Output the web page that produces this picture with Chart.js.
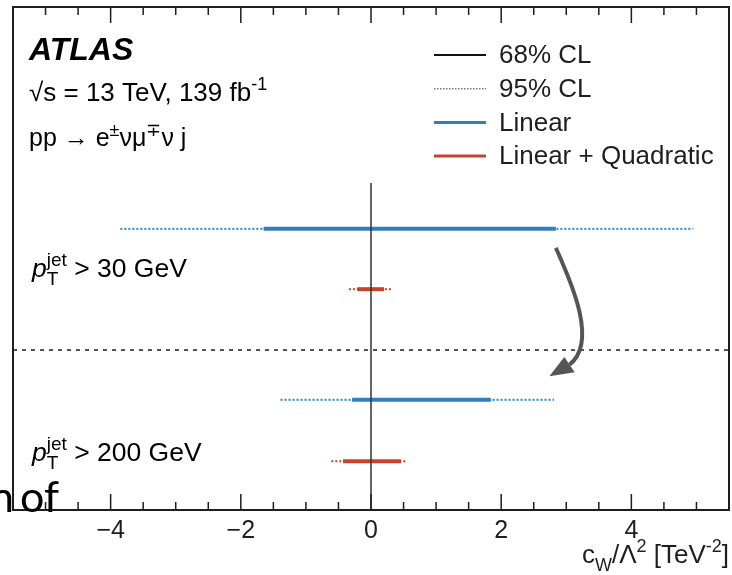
<!DOCTYPE html>
<html>
<head>
<meta charset="utf-8">
<script src="https://cdn.jsdelivr.net/npm/chart.js@4.4.1/dist/chart.umd.min.js"></script>
<style>
  html, body { margin: 0; padding: 0; background: #fff; }
</style>
</head>
<body>
<canvas id="cwChart" width="732" height="575"></canvas>
<script>
// ----------------------
// DATA: c_W / Lambda^2 limits [TeV^-2]
// ----------------------
const rows = ['pT>30 Linear', 'pT>30 Linear + Quadratic', 'pT>200 Linear', 'pT>200 Linear + Quadratic'];
const rowModel = ['linear', 'quad', 'linear', 'quad'];
const rowY = [4.41, 5.61, 7.81, 9.03];           // vertical slot of each row (hidden axis, 0 = top)
const cl68Low = [-1.65, -0.21, -0.29, -0.43];
const cl68High = [2.84, 0.20, 1.84, 0.46];
const cl95Low = [-3.85, -0.34, -1.39, -0.61];
const cl95High = [4.95, 0.31, 2.81, 0.54];

const xMin = -5.5, xMax = 5.5;
const xLabels = [-4, -2, 0, 2, 4];
const legendLabels = ['68% CL', '95% CL', 'Linear', 'Linear + Quadratic'];

const FONT = '"Liberation Sans", Arial, Helvetica, sans-serif';
const colors = { linear: '#2f7fbd', quad: '#c6422c' };
const ink = '#1e1e1e';

// ----------------------
// TEXT HELPERS
// ----------------------
function partFont(p, size) {
  const s = p.pos ? Math.round(size * 0.7) : size;
  return `${p.it ? 'italic ' : ''}${p.b ? 'bold ' : ''}${s}px ${FONT}`;
}

// draws runs of text with super/subscripts; {stack:true} does not advance x
function drawParts(ctx, x, y, parts, size, align) {
  let total = 0, held = 0;
  parts.forEach(p => {
    ctx.font = partFont(p, size);
    const w = ctx.measureText(p.t).width;
    if (p.stack) held = Math.max(held, w);
    else { total += Math.max(w, held); held = 0; }
  });
  let cx = align === 'right' ? x - total : x;
  held = 0;
  ctx.textAlign = 'left';
  ctx.textBaseline = 'alphabetic';
  parts.forEach(p => {
    ctx.font = partFont(p, size);
    const w = ctx.measureText(p.t).width;
    let dy = 0;
    if (p.pos === 'sup') dy = -size * 0.42;
    if (p.pos === 'sub') dy = size * 0.32;
    ctx.fillText(p.t, cx, y + dy);
    if (p.stack) held = Math.max(held, w);
    else { cx += Math.max(w, held); held = 0; }
  });
}

// ----------------------
// DECORATION PLUGIN (frame, inward ticks, legend, labels, arrow)
// ----------------------
const atlasDecor = {
  id: 'atlasDecor',
  afterDraw(chart) {
    const { ctx, chartArea: a } = chart;
    const sx = chart.scales.x, sy = chart.scales.y;
    ctx.save();

    // frame
    ctx.strokeStyle = ink;
    ctx.lineWidth = 2;
    ctx.strokeRect(a.left, a.top, a.right - a.left, a.bottom - a.top);

    // inward ticks on bottom and top edges
    ctx.lineWidth = 1.5;
    sx.ticks.forEach(t => {
      const px = sx.getPixelForValue(t.value);
      if (px <= a.left + 1 || px >= a.right - 1) return;
      const major = Math.abs(t.value % 2) < 1e-9;
      const len = major ? 16 : 8;
      ctx.beginPath();
      ctx.moveTo(px, a.bottom); ctx.lineTo(px, a.bottom - len);
      ctx.moveTo(px, a.top); ctx.lineTo(px, a.top + len);
      ctx.stroke();
    });

    // curved arrow
    const P = (x, y) => [sx.getPixelForValue(x), sy.getPixelForValue(y)];
    const p0 = P(2.84, 4.79), c1 = P(3.06, 5.43), c2 = P(3.50, 6.66), p3 = P(3.05, 7.11);
    ctx.strokeStyle = '#555';
    ctx.fillStyle = '#555';
    ctx.lineWidth = 4;
    ctx.beginPath();
    ctx.moveTo(...p0);
    ctx.bezierCurveTo(...c1, ...c2, ...p3);
    ctx.stroke();
    const tip = P(2.74, 7.34), wa = P(2.97, 6.96), wb = P(3.13, 7.26);
    ctx.beginPath();
    ctx.moveTo(...tip); ctx.lineTo(...wa); ctx.lineTo(...wb);
    ctx.closePath();
    ctx.fill();

    // legend
    const legStyles = [
      { color: '#111', width: 2, dash: [] },
      { color: '#777', width: 1.5, dash: [1.5, 1.5] },
      { color: colors.linear, width: 3, dash: [] },
      { color: colors.quad, width: 3, dash: [] }
    ];
    ctx.fillStyle = ink;
    legendLabels.forEach((lab, i) => {
      const y = 55 + i * 33.7;
      const st = legStyles[i];
      ctx.strokeStyle = st.color;
      ctx.lineWidth = st.width;
      ctx.setLineDash(st.dash);
      ctx.beginPath();
      ctx.moveTo(434, y); ctx.lineTo(486, y);
      ctx.stroke();
      ctx.setLineDash([]);
      ctx.font = `26px ${FONT}`;
      ctx.textBaseline = 'middle';
      ctx.textAlign = 'left';
      ctx.fillText(lab, 499, y + 1);
    });

    // experiment labels
    ctx.fillStyle = '#000';
    drawParts(ctx, 29, 60, [{ t: 'ATLAS', b: true, it: true }], 32);
    drawParts(ctx, 29, 101, [{ t: '\u221As = 13 TeV, 139 fb' }, { t: '-1', pos: 'sup' }], 26);
    drawParts(ctx, 29, 146, [
      { t: 'pp \u2192 e' }, { t: '\u00B1', pos: 'sup' }, { t: '\u03BD\u03BC' },
      { t: '\u2213', pos: 'sup' }, { t: '\u03BD j' }
    ], 25);

    // phase-space labels next to each pair of rows
    const ptLabel = (cut, yv) => drawParts(ctx, 32, yv, [
      { t: 'p', it: true }, { t: 'jet', pos: 'sup', stack: true }, { t: 'T', pos: 'sub' },
      { t: ' > ' + cut + ' GeV' }
    ], 26.5);
    ptLabel(30, 277);
    ptLabel(200, 461);

    // axis title
    ctx.fillStyle = ink;
    drawParts(ctx, a.right, 563, [
      { t: 'c' }, { t: 'W', pos: 'sub' }, { t: '/\u039B' }, { t: '2', pos: 'sup' },
      { t: ' [TeV' }, { t: '-2', pos: 'sup' }, { t: ']' }
    ], 26, 'right');

    // slide caption fragment in the lower-left corner
    ctx.fillStyle = '#000';
    ctx.font = '43px Lato, "Open Sans", sans-serif';
    ctx.textBaseline = 'alphabetic';
    ctx.textAlign = 'right';
    ctx.fillText('n', 14, 512);
    ctx.textAlign = 'left';
    ctx.fillText('of', 20, 512);

    ctx.restore();
  }
};

// ----------------------
// CHART
// ----------------------
function buildDatasets() {
  const ds = [];
  rows.forEach((row, i) => {
    const color = colors[rowModel[i]];
    ds.push({
      label: row + ' (95% CL)',
      data: [{ x: cl95Low[i], y: rowY[i] }, { x: cl95High[i], y: rowY[i] }],
      borderColor: color,
      borderWidth: 2,
      borderDash: [2, 2],
      pointRadius: 0,
      order: 3
    });
    ds.push({
      label: row + ' (68% CL)',
      data: [{ x: cl68Low[i], y: rowY[i] }, { x: cl68High[i], y: rowY[i] }],
      borderColor: color,
      borderWidth: 4,
      pointRadius: 0,
      order: 2
    });
  });
  // separator between the two jet-pT selections
  ds.push({
    label: 'separator',
    data: [{ x: xMin, y: 6.82 }, { x: xMax, y: 6.82 }],
    borderColor: '#555',
    borderWidth: 2,
    borderDash: [4, 5],
    pointRadius: 0,
    order: 1
  });
  // SM reference at c_W = 0
  ds.push({
    label: 'SM',
    data: [{ x: 0, y: 3.5 }, { x: 0, y: 10 }],
    borderColor: '#333',
    borderWidth: 1.5,
    pointRadius: 0,
    order: 0
  });
  return ds;
}

function drawChart() {
  const ctx = document.getElementById('cwChart').getContext('2d');
  new Chart(ctx, {
    type: 'line',
    data: { datasets: buildDatasets() },
    options: {
      responsive: false,
      animation: false,
      layout: { padding: { left: 13, right: 3, top: 7, bottom: 0 } },
      plugins: { legend: { display: false }, tooltip: { enabled: false } },
      scales: {
        x: {
          type: 'linear',
          min: xMin,
          max: xMax,
          grid: { display: false, drawTicks: false },
          border: { display: false },
          ticks: {
            stepSize: 0.5,
            autoSkip: false,
            maxRotation: 0,
            padding: 6,
            color: ink,
            font: { family: FONT, size: 25 },
            callback: v => xLabels.some(t => Math.abs(t - v) < 1e-9) ? (v < 0 ? '\u2212' + Math.abs(v) : String(v)) : ''
          },
          afterFit: s => { s.height = 65; s.paddingLeft = 0; s.paddingRight = 0; }
        },
        y: { type: 'linear', min: 0, max: 10, reverse: true, display: false }
      }
    },
    plugins: [atlasDecor]
  });
}

document.addEventListener('DOMContentLoaded', drawChart);
</script>
</body>
</html>
